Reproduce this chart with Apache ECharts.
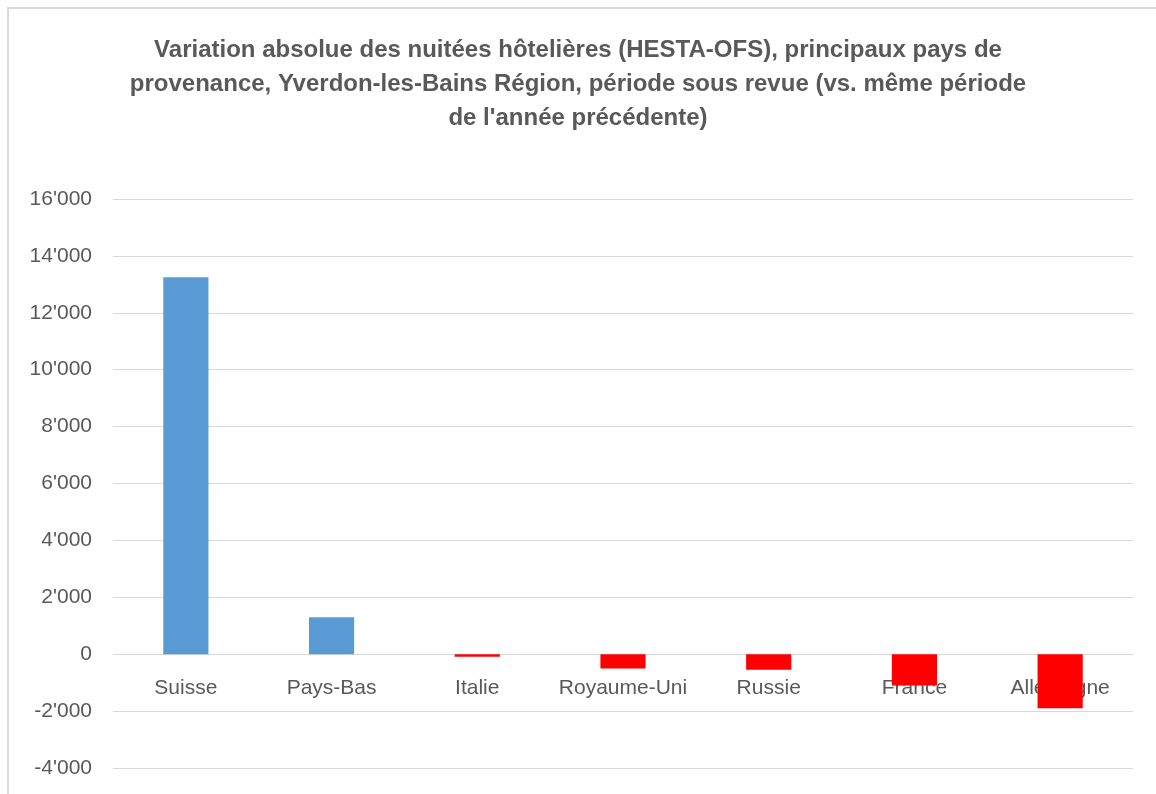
<!DOCTYPE html>
<html>
<head>
<meta charset="utf-8">
<title>Nuitées hôtelières Yverdon-les-Bains Région</title>
<script src="https://cdn.jsdelivr.net/npm/echarts@6/dist/echarts.min.js"></script>
<style>
  html, body { margin: 0; padding: 0; background: #fff; }
  #chart { width: 1156px; height: 794px; }
</style>
</head>
<body>
<div id="chart"></div>
<script>
const titleText = "Variation absolue des nuitées hôtelières (HESTA-OFS), principaux pays de\nprovenance, Yverdon-les-Bains Région, période sous revue (vs. même période\nde l'année précédente)";
const countries = ['Suisse', 'Pays-Bas', 'Italie', 'Royaume-Uni', 'Russie', 'France', 'Allemagne'];
const variation = [13250, 1300, -90, -500, -550, -1100, -1900];
const yTicks = { min: -4000, max: 16000, interval: 2000 };

// 12'000 style
const swissFormat = (v) => {
  const s = Math.abs(v).toString().replace(/\B(?=(\d{3})+(?!\d))/g, "'");
  return v < 0 ? '-' + s : s;
};

const chart = echarts.init(document.getElementById('chart'));

const options = {
  animation: false,
  textStyle: { fontFamily: 'Liberation Sans, Arial, sans-serif' },
  title: {
    text: titleText,
    left: 'center',
    top: 28,
    textStyle: {
      fontSize: 24,
      fontWeight: 'bold',
      color: '#595959',
      lineHeight: 34
    }
  },
  graphic: [
    {
      type: 'rect',
      shape: { x: 8, y: 8, width: 1160, height: 800 },
      style: { fill: 'none', stroke: '#d9d9d9', lineWidth: 2 },
      silent: true
    }
  ],
  grid: {
    left: 113,
    right: 23,
    top: 199,
    bottom: 26,
    outerBoundsMode: 'none'
  },
  xAxis: {
    type: 'category',
    data: countries,
    // labels sit just under the zero line (onZero did not move them)
    offset: -112,
    axisLine: { show: false, onZero: false },
    axisTick: { show: false },
    axisLabel: {
      color: '#595959',
      fontSize: 21,
      margin: 22,
      interval: 0
    }
  },
  yAxis: {
    type: 'value',
    min: yTicks.min,
    max: yTicks.max,
    interval: yTicks.interval,
    axisLine: { show: false },
    axisTick: { show: false },
    splitLine: { lineStyle: { color: '#d9d9d9', width: 1 } },
    axisLabel: {
      color: '#595959',
      fontSize: 21,
      margin: 21,
      formatter: swissFormat
    }
  },
  series: [
    {
      name: 'Variation',
      type: 'bar',
      data: variation,
      barWidth: '31%',
      itemStyle: {
        color: (p) => (p.value >= 0 ? '#5b9bd5' : '#ff0000')
      }
    }
  ]
};

chart.setOption(options);
</script>
</body>
</html>
